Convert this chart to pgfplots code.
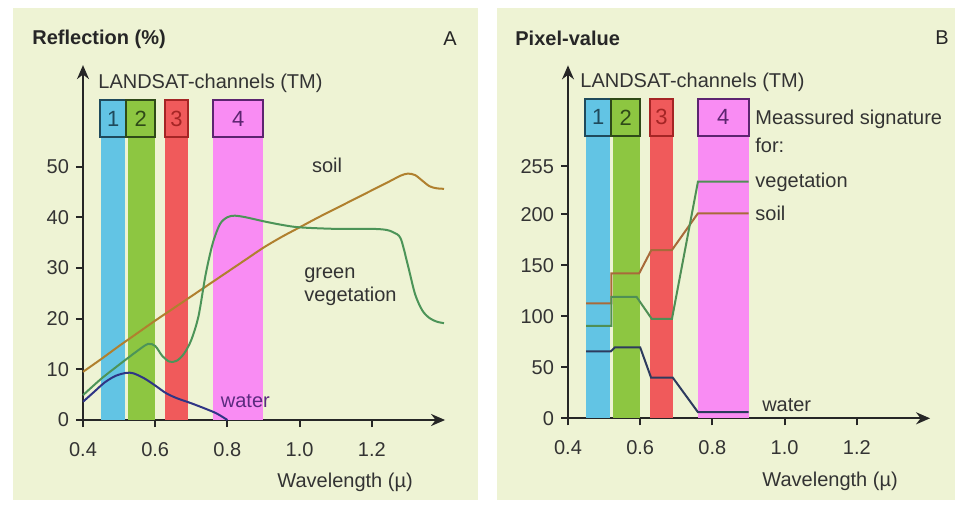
\documentclass[border=0pt]{standalone}
\usepackage{fontspec}
\setmainfont{Liberation Sans}
\usepackage{pgfplots}
\pgfplotsset{compat=1.18}
\usetikzlibrary{arrows.meta}
\definecolor{bg}{HTML}{EEF3D4}
\definecolor{cblue}{HTML}{62C4E4}
\definecolor{cgreen}{HTML}{8DC641}
\definecolor{cred}{HTML}{F05A5B}
\definecolor{cmag}{HTML}{F98CF3}
\definecolor{dblue}{HTML}{1F4A5C}
\definecolor{dgreen}{HTML}{2F4A18}
\definecolor{dred}{HTML}{A52525}
\definecolor{dmag}{HTML}{5C2470}
\definecolor{soilc}{HTML}{B0802E}
\definecolor{vegc}{HTML}{4C9458}
\definecolor{waterc}{HTML}{2F3585}
\definecolor{soilr}{HTML}{A86A3A}
\definecolor{vegr}{HTML}{4F8F55}
\definecolor{waterr}{HTML}{2D3B5E}
\definecolor{txt}{HTML}{333333}
\definecolor{wlab}{HTML}{5B2A7F}
\newcommand\fs{\fontsize{10}{11.5}\selectfont}
\pgfplotsset{panel/.style={
  x=180.5pt, enlargelimits=false, clip=false,
  axis lines=left,
  axis line style={line width=1pt, color=black!85, -{Stealth[length=7pt,width=6pt]}},
  xmin=0.4, xmax=1.403, ymin=0,
  xtick={0.4,0.6,0.8,1.0,1.2},
  xticklabels={0.4,0.6,0.8,1.0,1.2},
  tick align=outside, major tick length=3.5pt,
  tick style={line width=1pt, color=black!85},
  ticklabel style={font=\fs, text=txt},
  xticklabel style={yshift=-4pt},
  /pgf/number format/assume math mode=true,
  anchor=south west,
}}
% #1 band top, #2 box top, #3 digit y
\newcommand\bands[3]{%
 \addplot[fill=cblue,draw=none] coordinates {(0.45,0)(0.515,0)(0.515,#1)(0.45,#1)} -- cycle;
 \addplot[fill=cgreen,draw=none] coordinates {(0.525,0)(0.60,0)(0.60,#1)(0.525,#1)} -- cycle;
 \addplot[fill=cred,draw=none] coordinates {(0.628,0)(0.69,0)(0.69,#1)(0.628,#1)} -- cycle;
 \addplot[fill=cmag,draw=none] coordinates {(0.76,0)(0.90,0)(0.90,#1)(0.76,#1)} -- cycle;
 \addplot[fill=cblue,draw=dblue,line width=1pt] coordinates {(0.448,#1)(0.52,#1)(0.52,#2)(0.448,#2)} -- cycle;
 \addplot[fill=cgreen,draw=dgreen,line width=1pt] coordinates {(0.52,#1)(0.60,#1)(0.60,#2)(0.52,#2)} -- cycle;
 \addplot[fill=cred,draw=dred,line width=1pt] coordinates {(0.628,#1)(0.69,#1)(0.69,#2)(0.628,#2)} -- cycle;
 \addplot[fill=cmag,draw=dmag,line width=1pt] coordinates {(0.76,#1)(0.90,#1)(0.90,#2)(0.76,#2)} -- cycle;
 \node[text=dblue,font=\fontsize{11}{12}\selectfont] at (axis cs:0.484,#3) {1};
 \node[text=dgreen,font=\fontsize{11}{12}\selectfont] at (axis cs:0.56,#3) {2};
 \node[text=dred,font=\fontsize{11}{12}\selectfont] at (axis cs:0.659,#3) {3};
 \node[text=dmag,font=\fontsize{11}{12}\selectfont] at (axis cs:0.83,#3) {4};
}
\begin{document}
\begin{tikzpicture}
\fill[white] (0,0) rectangle (477.5pt,252.5pt);
\fill[bg] (6.5pt,2.5pt) rectangle (239pt,248.5pt);
\fill[bg] (248.5pt,2.5pt) rectangle (477.5pt,248.5pt);
\node[anchor=west,font=\fs\bfseries,text=black!85,inner sep=0pt] at (16pt,233pt) {Reflection (\%)};
\node[font=\fs,text=black!85,inner sep=0pt] at (225pt,233pt) {A};
\node[anchor=west,font=\fs\bfseries,text=black!85,inner sep=0pt] at (257.5pt,233.5pt) {Pixel-value};
\node[font=\fs,text=black!85,inner sep=0pt] at (471pt,233.5pt) {B};
\node[anchor=west,font=\fs,text=txt,inner sep=0pt] at (49pt,211pt) {LANDSAT-channels (TM)};
\node[anchor=west,font=\fs,text=txt,inner sep=0pt] at (290pt,211.5pt) {LANDSAT-channels (TM)};

\begin{axis}[panel, at={(41.5pt,42.5pt)}, y=2.535pt, ymax=70,
  ytick={0,10,20,30,40,50}, yticklabels={0,10,20,30,40,50}]
\bands{55.8}{63.1}{59.4}
\addplot[soilc,line width=1pt,smooth,tension=0.5] coordinates {(0.4,9.5)(0.45,12)(0.5,14.6)(0.55,17.1)(0.6,19.6)(0.65,22)(0.7,24.4)(0.75,26.8)(0.8,29.2)(0.85,31.6)(0.9,34)(0.95,36.1)(1.0,38)(1.05,39.9)(1.1,41.7)(1.15,43.5)(1.2,45.3)(1.25,47.1)(1.28,48.2)(1.3,48.6)(1.32,48.3)(1.34,47.2)(1.36,46.1)(1.38,45.7)(1.4,45.6)};
\addplot[vegc,line width=1pt,smooth,tension=0.5] coordinates {(0.4,4.9)(0.45,8.1)(0.5,10.9)(0.55,13.6)(0.58,15)(0.6,14.6)(0.62,12.6)(0.64,11.5)(0.66,11.7)(0.68,13.1)(0.70,15.8)(0.72,20.5)(0.74,28.8)(0.76,35)(0.78,38.7)(0.80,40)(0.82,40.3)(0.85,40)(0.9,39.2)(0.95,38.5)(1.0,38)(1.1,37.7)(1.2,37.7)(1.24,37.5)(1.26,37)(1.28,35.8)(1.30,30.5)(1.32,24.8)(1.34,21.6)(1.36,20.1)(1.38,19.4)(1.4,19.1)};
\addplot[waterc,line width=1pt,smooth,tension=0.5] coordinates {(0.4,3.6)(0.43,5.5)(0.46,7.4)(0.49,8.7)(0.52,9.3)(0.54,9.2)(0.57,8.2)(0.6,6.8)(0.63,5.3)(0.66,4.3)(0.7,3.3)(0.74,2.2)(0.77,1.3)(0.8,0)};
\node[font=\fs,text=txt] at (axis cs:1.076,50.3) {soil};
\node[anchor=west,align=left,font=\fs,text=txt,inner sep=0pt] at (axis cs:1.012,26.3) {green\\vegetation};
\node[anchor=west,font=\fs,text=wlab,inner sep=0pt] at (axis cs:0.781,3.8) {water};
\node[font=\fs,text=txt] at (axis cs:1.126,-12.2) {Wavelength (µ)};
\end{axis}

\begin{axis}[panel, at={(284pt,43.35pt)}, y=0.51pt, ymax=346,
  ytick={0,50,100,150,200,247}, yticklabels={0,50,100,150,200,255}]
\bands{276.7}{313}{295}
\addplot[soilr,line width=1pt] coordinates {(0.45,112.7)(0.52,112.7)(0.52,142)(0.597,142)(0.631,165)(0.688,165)(0.76,201)(0.90,201)};
\addplot[vegr,line width=1pt] coordinates {(0.45,90.5)(0.52,90.5)(0.52,119)(0.59,119)(0.632,97.5)(0.688,97.5)(0.76,232)(0.90,232)};
\addplot[waterr,line width=1pt] coordinates {(0.45,65.5)(0.518,65.5)(0.53,69.5)(0.60,69.5)(0.63,40)(0.69,40)(0.76,6)(0.90,6)};
\node[anchor=west,align=left,font=\fs,text=txt,inner sep=0pt] at (axis cs:0.918,281.6) {Meassured signature\\[2.5pt]for:};
\node[anchor=west,font=\fs,text=txt,inner sep=0pt] at (axis cs:0.918,231.7) {vegetation};
\node[anchor=west,font=\fs,text=txt,inner sep=0pt] at (axis cs:0.918,201) {soil};
\node[anchor=west,font=\fs,text=txt,inner sep=0pt] at (axis cs:0.937,13) {water};
\node[font=\fs,text=txt] at (axis cs:1.126,-62) {Wavelength (µ)};
\end{axis}
\end{tikzpicture}
\end{document}
